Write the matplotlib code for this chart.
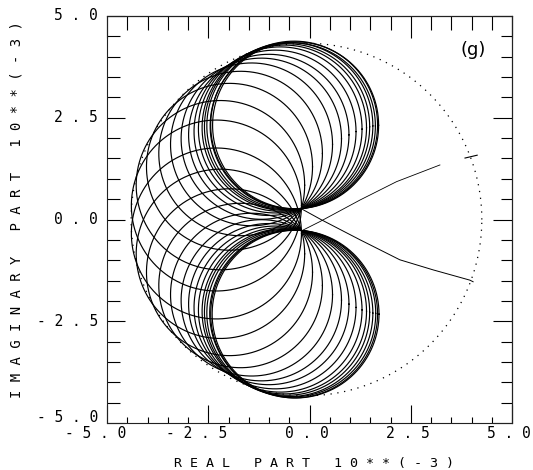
import numpy as np
import matplotlib
matplotlib.use("Agg")
import matplotlib.pyplot as plt
from matplotlib.ticker import MultipleLocator
from matplotlib.transforms import ScaledTranslation

# circle families (units of 10**-3)
# every circle of a family passes through its pole; centre = pole + r * (cos a, sin a)
UPPER_POLE = (-0.20, 0.27)
UPPER_ANGLES = [94, 95, 96, 98, 100, 102, 105, 109, 114, 120, 128, 138, 150, 164, 178]
UPPER_RADII = [2.05, 2.06, 2.04, 2.05, 2.04, 2.03, 2.02, 2.00, 1.98, 1.98, 2.00, 2.02, 2.05, 2.08, 2.10]

LOWER_POLE = (-0.20, -0.27)
LOWER_ANGLES = [266, 265, 264, 262, 260, 258, 255, 251, 246, 240, 232, 222, 210, 196, 182]
LOWER_RADII = [2.06, 2.06, 2.05, 2.05, 2.04, 2.03, 2.02, 2.00, 1.98, 1.98, 2.00, 2.02, 2.05, 2.08, 2.10]

# dotted bounding circle
ENV_CENTER = (-0.075, 0.0)
ENV_RADIUS = 4.33

# the two near-straight branches leaving the cusp
UPPER_LINE_X = [-0.16, 0.26, 1.25, 2.15, 3.22]
UPPER_LINE_Y = [-0.26, -0.05, 0.48, 0.93, 1.34]
UPPER_END_X = [3.84, 4.14]
UPPER_END_Y = [1.51, 1.58]
LOWER_LINE_X = [-0.23, 0.30, 1.25, 2.23, 3.06, 3.96, 4.04]
LOWER_LINE_Y = [0.28, -0.01, -0.50, -0.99, -1.24, -1.49, -1.53]

MAJOR_TICKS = [-5.0, -2.5, 0.0, 2.5, 5.0]
TICK_TEXT = ["- 5 . 0", "- 2 . 5", "0 . 0", "2 . 5", "5 . 0"]

MONO = "DejaVu Sans Mono"

fig = plt.figure(figsize=(5.33, 4.70), dpi=100)
ax = fig.add_axes([107 / 533, 1 - 423 / 470, 405 / 533, 407 / 470])
ax.set_xlim(-5, 5)
ax.set_ylim(-5, 5)

t = np.linspace(0, 2 * np.pi, 500)


def draw_family(pole, angles, radii):
    for a, r in zip(angles, radii):
        cx = pole[0] + r * np.cos(np.radians(a))
        cy = pole[1] + r * np.sin(np.radians(a))
        ax.plot(cx + r * np.cos(t), cy + r * np.sin(t), color="black", lw=0.85)


draw_family(UPPER_POLE, UPPER_ANGLES, UPPER_RADII)
draw_family(LOWER_POLE, LOWER_ANGLES, LOWER_RADII)

ax.plot(ENV_CENTER[0] + ENV_RADIUS * np.cos(t), ENV_CENTER[1] + ENV_RADIUS * np.sin(t),
        color="black", lw=0.9, linestyle=(0, (1, 4.5)))

ax.plot(UPPER_LINE_X, UPPER_LINE_Y, color="black", lw=0.6)
ax.plot(UPPER_END_X, UPPER_END_Y, color="black", lw=0.8)
ax.plot(LOWER_LINE_X, LOWER_LINE_Y, color="black", lw=0.7)

ax.text(4.05, 4.16, "(g)", ha="center", va="center", fontsize=13)

# ticks: inward on all four sides
for s in ax.spines.values():
    s.set_linewidth(0.8)
    s.set_color("#222222")
ax.set_xticks(MAJOR_TICKS)
ax.set_yticks(MAJOR_TICKS)
ax.xaxis.set_minor_locator(MultipleLocator(0.5))
ax.yaxis.set_minor_locator(MultipleLocator(0.5))
ax.tick_params(which="both", direction="in", labelbottom=False, labelleft=False, width=0.8)
ax.tick_params(axis="x", which="major", length=13)
ax.tick_params(axis="x", which="minor", length=4)
ax.tick_params(axis="y", which="major", length=13)
ax.tick_params(axis="y", which="minor", length=9)

secx = ax.secondary_xaxis("top")
secx.set_xticks(MAJOR_TICKS)
secx.xaxis.set_minor_locator(MultipleLocator(0.5))
secx.tick_params(which="both", direction="in", labeltop=False, width=0.8)
secx.tick_params(which="major", length=16)
secx.tick_params(which="minor", length=10)
secx.spines["top"].set_linewidth(0.8)

secy = ax.secondary_yaxis("right")
secy.set_yticks(MAJOR_TICKS)
secy.yaxis.set_minor_locator(MultipleLocator(0.5))
secy.tick_params(which="both", direction="in", labelright=False, width=0.8)
secy.tick_params(which="major", length=14)
secy.tick_params(which="minor", length=8)
secy.spines["right"].set_linewidth(0.8)

# spaced-out plotter style tick labels
xoff = ax.get_xaxis_transform() + ScaledTranslation(0.19, -0.03, fig.dpi_scale_trans)
for v, s in zip(MAJOR_TICKS, TICK_TEXT):
    ax.text(v, 0, s, transform=xoff, ha="right", va="top", fontsize=10.5, family=MONO)
    # lowest y label nudged up so it clears the x label below it
    lift = 0.06 if v == MAJOR_TICKS[0] else 0.0
    yoff = ax.get_yaxis_transform() + ScaledTranslation(-0.09, lift, fig.dpi_scale_trans)
    ax.text(0, v, s, transform=yoff, ha="right", va="center", fontsize=10.5, family=MONO)

fig.text(314 / 533, 1 - 464 / 470, "R E A L   P A R T   1 0 * * ( - 3 )",
         ha="center", va="center", fontsize=9.6, family=MONO)
fig.text(17 / 533, 1 - 210 / 470, "I M A G I N A R Y   P A R T   1 0 * * ( - 3 )",
         ha="center", va="center", rotation=90, fontsize=10, family=MONO)

fig.savefig("out.png", dpi=100)
